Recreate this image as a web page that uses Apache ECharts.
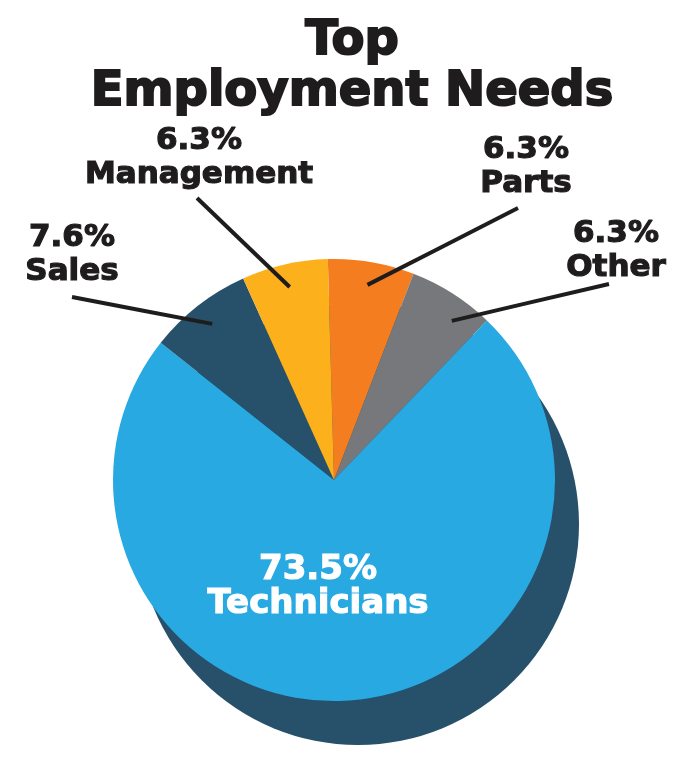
<!DOCTYPE html>
<html><head><meta charset="utf-8">
<script src="https://cdn.jsdelivr.net/npm/echarts@6/dist/echarts.min.js"></script>
<style>html,body{margin:0;padding:0;background:#fff}#c{width:700px;height:761px}</style>
</head><body><div id="c"></div>
<script>
// ---- data ----
const categories = ['Parts', 'Other', 'Technicians', 'Sales', 'Management'];
const values = [6.3, 6.3, 73.5, 7.6, 6.3];
const colors = ['#f47d20', '#77787b', '#29a9e1', '#27506a', '#fbb01c'];
const titleText = ['Top', 'Employment Needs'];

// ---- layout (positions / styles) ----
const CX = 334, CY = 480, R = 221, START = 91.6;
const SHADOW_DX = 24, SHADOW_DY = 44;
const LINE_START_R = 198;
// x,y: label block centre; end: leader-line end; frac: where in the slice the line starts
const labelPlace = {
  Parts:       { x: 526, y: 167, end: [518, 208], frac: 0.5 },
  Other:       { x: 616, y: 251, end: [609, 284], frac: 0.68 },
  Technicians: { x: 318, y: 587 },
  Sales:       { x: 72,  y: 255, end: [72, 297], frac: 0.5 },
  Management:  { x: 199, y: 158, end: [197, 198], frac: 0.5 }
};

const total = values.reduce((a, b) => a + b, 0);
const startAngles = [];
let acc = 0;
values.forEach(v => { startAngles.push(START - 360 * acc / total); acc += v; });

const chart = echarts.init(document.getElementById('c'), null, { renderer: 'canvas' });
const FONT = 'DejaVu Sans';
const INK = '#1f1c1d';

chart.setOption({
  animation: false,
  backgroundColor: '#ffffff',
  title: {
    text: titleText.join('\n'),
    left: 347,
    textAlign: 'center',
    top: 11,
    textStyle: {
      fontFamily: FONT, fontWeight: 'bold', fontSize: 48, lineHeight: 51, color: INK,
      textBorderColor: INK, textBorderWidth: 2
    }
  },
  series: [
    {
      // offset shadow disc
      type: 'pie',
      silent: true,
      center: [CX + SHADOW_DX, CY + SHADOW_DY],
      radius: R,
      label: { show: false },
      labelLine: { show: false },
      data: [{ name: 'shadow', value: total, itemStyle: { color: '#27506a' } }],
      z: 1
    },
    {
      // coloured slices
      type: 'pie',
      center: [CX, CY],
      radius: R,
      startAngle: START,
      clockwise: true,
      z: 2,
      itemStyle: { borderWidth: 0 },
      label: { show: false },
      labelLine: { show: false },
      data: categories.map((n, i) => ({ name: n, value: values[i], itemStyle: { color: colors[i] } }))
    },
    {
      // labels and leader lines drawn above the slices
      type: 'pie',
      silent: true,
      center: [CX, CY],
      radius: R,
      startAngle: START,
      clockwise: true,
      avoidLabelOverlap: false,
      z: 3,
      itemStyle: { color: 'rgba(0,0,0,0)', borderWidth: 0 },
      label: {
        show: true,
        position: 'outside',
        formatter: p => p.value + '%\n' + p.name,
        fontFamily: FONT, fontWeight: 'bold', fontSize: 31, lineHeight: 34,
        color: INK, align: 'center',
        textBorderColor: INK, textBorderWidth: 1.2
      },
      labelLine: { show: true, length: 10, length2: 10, lineStyle: { color: INK, width: 4 } },
      labelLayout: function (params) {
        const i = params.dataIndex;
        const pl = labelPlace[categories[i]];
        const out = { x: pl.x, y: pl.y, align: 'center', verticalAlign: 'middle' };
        if (pl.end) {
          const deg = startAngles[i] - 360 * values[i] * pl.frac / total;
          const a = deg * Math.PI / 180;
          const sx = CX + LINE_START_R * Math.cos(a), sy = CY - LINE_START_R * Math.sin(a);
          out.labelLinePoints = [[sx, sy], [(sx + pl.end[0]) / 2, (sy + pl.end[1]) / 2], pl.end];
        }
        return out;
      },
      data: categories.map((n, i) => {
        const d = { name: n, value: values[i] };
        if (n === 'Technicians') {
          d.label = { position: 'inside', color: '#ffffff', fontSize: 34, lineHeight: 34,
                      textBorderColor: '#ffffff', textBorderWidth: 1.2 };
          d.labelLine = { show: false };
        }
        return d;
      })
    }
  ]
});
</script>
</body></html>
